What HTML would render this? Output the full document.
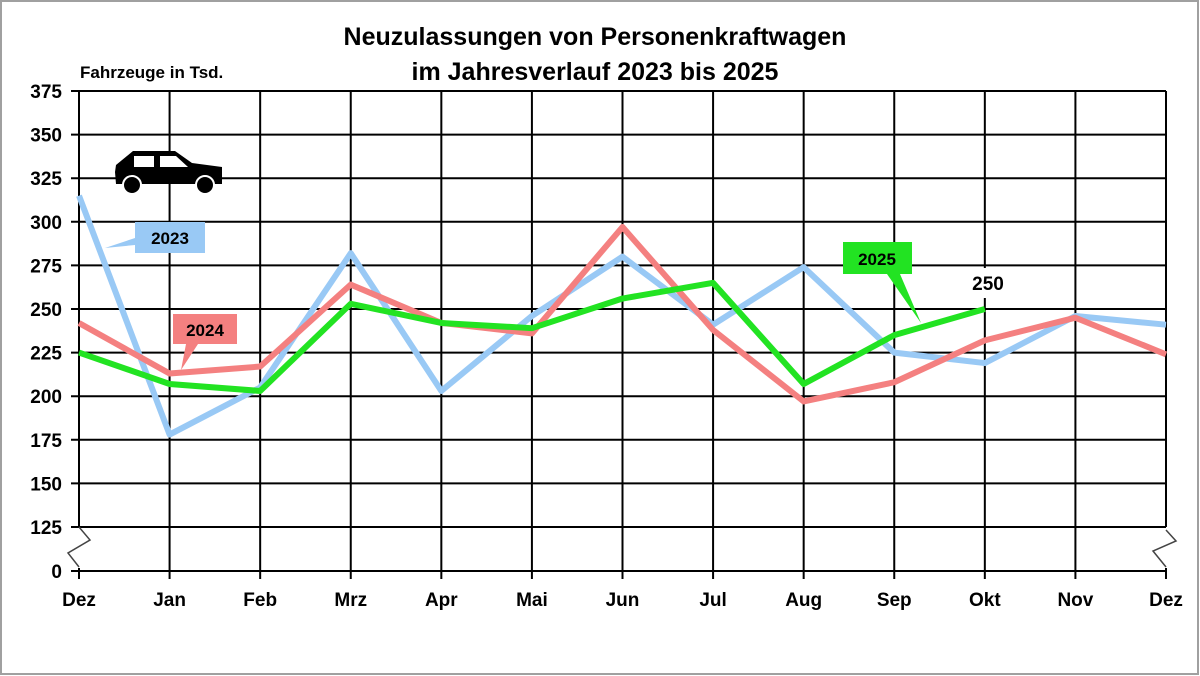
<!DOCTYPE html>
<html><head><meta charset="utf-8"><style>
html,body{margin:0;padding:0;background:#fff}
svg{display:block}
text{font-family:"Liberation Sans",Arial,sans-serif;font-weight:bold;fill:#000}
</style></head><body>
<svg width="1200" height="676" viewBox="0 0 1200 676">
<rect x="1" y="1" width="1197" height="673" fill="#fff" stroke="#a0a0a0" stroke-width="2"/>
<text x="595" y="45" font-size="25" text-anchor="middle">Neuzulassungen von Personenkraftwagen</text>
<text x="595" y="80" font-size="25" text-anchor="middle">im Jahresverlauf 2023 bis 2025</text>
<text x="80" y="78" font-size="17">Fahrzeuge in Tsd.</text>
<g id="grid" stroke="#000" stroke-width="2">
</g>
<g id="lbl" font-size="19"></g>
<g fill="none" stroke-linejoin="round" stroke-width="6" id="series"></g>
<!-- car -->
<g fill="#000">
<path d="M115,172 L116,165 L133,151 L175,151 L192,163 L222,167 L222,184 L116,184 Z"/>
<rect x="134" y="156" width="20" height="11" fill="#fff"/>
<path d="M160,156 L176,156 L188,167 L160,167 Z" fill="#fff"/>
<circle cx="132" cy="185" r="9" stroke="#fff" stroke-width="2"/>
<circle cx="205" cy="185" r="9" stroke="#fff" stroke-width="2"/>
</g>
<!-- callouts -->
<polygon points="105,248 135,238 135,222 205,222 205,253 135,253 135,245" fill="#99c9f5"/>
<text x="170" y="244" font-size="17" text-anchor="middle">2023</text>
<polygon points="173,314 237,314 237,344 198,344 181,370 186,344 173,344" fill="#f48080"/>
<text x="205" y="336" font-size="17" text-anchor="middle">2024</text>
<polygon points="843,242 912,242 912,274 900,274 921,323 887,274 843,274" fill="#22e322"/>
<text x="877" y="265" font-size="17" text-anchor="middle">2025</text>
<rect x="966" y="270" width="44" height="26" fill="#fff"/>
<text x="988" y="290" font-size="19" text-anchor="middle" font-weight="normal">250</text>
<!-- break marks -->
<polyline points="79,527 90,540 68,553 79,567" fill="none" stroke="#444" stroke-width="1.5"/>
<polyline points="1166,530 1176,541 1153,551 1166,567" fill="none" stroke="#444" stroke-width="1.5"/>
</svg>
<script>
const L=79,R=1166,n=12,dx=(R-L)/n;
const Y=v=>v===0?571:527-(v-125)*1.744;
const g=document.getElementById('grid'),lb=document.getElementById('lbl'),s=document.getElementById('series');
const NS='http://www.w3.org/2000/svg';
function el(p,t,a,txt){const e=document.createElementNS(NS,t);for(const k in a)e.setAttribute(k,a[k]);if(txt)e.textContent=txt;p.appendChild(e);return e;}
const ticks=[0,125,150,175,200,225,250,275,300,325,350,375];
ticks.forEach(v=>{const y=Y(v);el(g,'line',{x1:L-8,x2:R,y1:y,y2:y});el(lb,'text',{x:L-17,y:y+7,'text-anchor':'end'},String(v));});
const m=['Dez','Jan','Feb','Mrz','Apr','Mai','Jun','Jul','Aug','Sep','Okt','Nov','Dez'];
m.forEach((t,i)=>{const x=L+i*dx;
if(i==10){el(g,'line',{x1:x,x2:x,y1:Y(375),y2:268});el(g,'line',{x1:x,x2:x,y1:298,y2:579});}
else el(g,'line',{x1:x,x2:x,y1:Y(375),y2:(i==0||i==12)?Y(125):579});
if(i==0||i==12)el(g,'line',{x1:x,x2:x,y1:568,y2:579});
el(lb,'text',{x:x,y:606,'text-anchor':'middle'},t);});
const d={'#99c9f5':[315,178,205,282,203,246,280,241,274,225,219,246,241],
'#f48080':[242,213,217,264,242,236,297,238,197,208,232,245,224],
'#22e322':[225,207,203,253,242,239,256,265,207,235,250]};
for(const c in d){el(s,'polyline',{stroke:c,points:d[c].map((v,i)=>(L+i*dx)+','+Y(v)).join(' ')});}
</script>
</body></html>
